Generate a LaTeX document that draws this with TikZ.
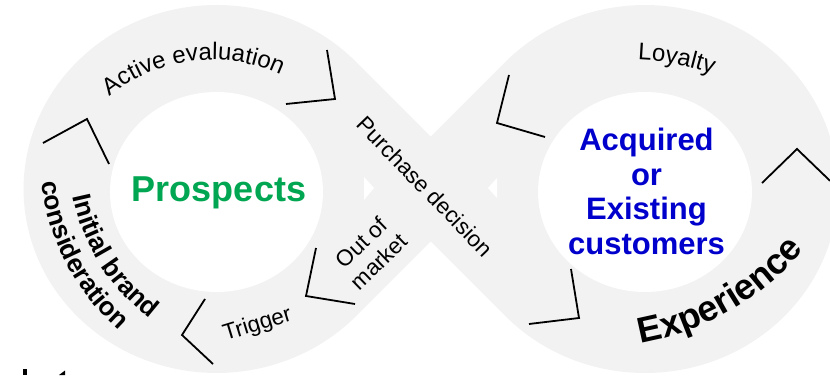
\documentclass[tikz,border=0pt]{standalone}
\usepackage{fontspec}
\setmainfont{Liberation Sans}
\usetikzlibrary{decorations.text}

\definecolor{bandgray}{HTML}{F2F2F2}
\definecolor{prospectgreen}{HTML}{00A651}
\definecolor{custblue}{HTML}{0000CC}

\tikzset{
  chevron/.style={draw=black, line width=1.8pt, line join=miter},
  lbl/.style={font=\fontsize{22.5}{26}\selectfont, inner sep=0pt, align=center},
  arclabel/.style={decorate, decoration={text along path, text align=center, text={#1}}},
  gap/.style={fill=white, draw=none},
}

\begin{document}
\begin{tikzpicture}[x=1pt, y=1pt]
  \useasboundingbox (0,0) rectangle (830,375);
  \clip (0,0) rectangle (830,375);

  % infinity band: two elliptical lobes joined by crossing tangents
  \fill[bandgray] (430.75,238.45) -- (356.3,312.9)
    arc[start angle=43.6, end angle=316.4, x radius=193, y radius=184]
    -- (430.75,133.55) -- (505.2,59.1)
    arc[start angle=-136.4, end angle=136.4, x radius=193, y radius=184]
    -- cycle;

  % inner holes of the lobes
  \fill[white] (216.5,183) ellipse[x radius=106.5, y radius=100];
  \fill[white] (645,183) ellipse[x radius=107, y radius=100];

  % small gaps beside the crossing
  \fill[gap] (364,198) -- (374,187) -- (364,175) -- cycle;
  \fill[gap] (497,197) -- (488,187) -- (497,177) -- cycle;

  % direction chevrons
  \draw[chevron] (327,325) -- (335,276) -- (286,271);
  \draw[chevron] (43,232) -- (87,256) -- (109,211);
  \draw[chevron] (205,76) -- (182,40) -- (213,11);
  \draw[chevron] (316,127) -- (306,79) -- (355,71);
  \draw[chevron] (509,300) -- (497,252) -- (545,238);
  \draw[chevron] (571,106) -- (579,57) -- (529,51);
  \draw[chevron] (762,192) -- (797,226) -- (830,194.2);

  % centre labels
  \node[font=\fontsize{36}{40}\selectfont\bfseries, text=prospectgreen,
        anchor=base, inner sep=0pt] (prospects) at (219,173) {Prospects};
  \node[font=\fontsize{31}{34.5}\selectfont\bfseries, text=custblue,
        align=center, anchor=north, inner sep=0pt] (customers) at (646.5,247)
        {Acquired\\or\\Existing\\customers};

  % straight stage labels
  \node[lbl, rotate=-46] (purchase) at (425,188.5) {Purchase decision};
  \node[lbl, rotate=44] (outofmarket) at (370,123) {Out of\\market};
  \node[lbl, rotate=17] (trigger) at (257.5,50) {Trigger};

  % curved stage labels
  \path[arclabel={|\fontsize{24}{24}\selectfont|Active evaluation}]
    ([shift={(142:162)}]212,153) arc[start angle=142, end angle=52, radius=162];
  \path[arclabel={|\fontsize{24}{24}\selectfont|Loyalty}]
    ([shift={(99.3:250)}]629.3,65.2) arc[start angle=99.3, end angle=59.3, radius=250];
  \path[arclabel={|\fontsize{26}{26}\selectfont\bfseries|Initial brand}]
    ([shift={(177.25:206)}]274.5,220.2) arc[start angle=177.25, end angle=247.25, radius=206];
  \path[arclabel={|\fontsize{26}{26}\selectfont\bfseries|consideration}]
    ([shift={(172.55:234.7)}]274.5,220.2) arc[start angle=172.55, end angle=242.55, radius=234.7];
  \path[arclabel={|\fontsize{36}{36}\selectfont\bfseries|Experience}]
    ([shift={(-90:274.5)}]593.3,302) arc[start angle=-90, end angle=-30, radius=274.5];

  % glyph tops cut by the lower edge
  \fill[black] (22.7,0) rectangle (26.7,5.7);
  \fill[black] (59,0) -- (65,4.5) -- (65,0) -- cycle;
\end{tikzpicture}
\end{document}
